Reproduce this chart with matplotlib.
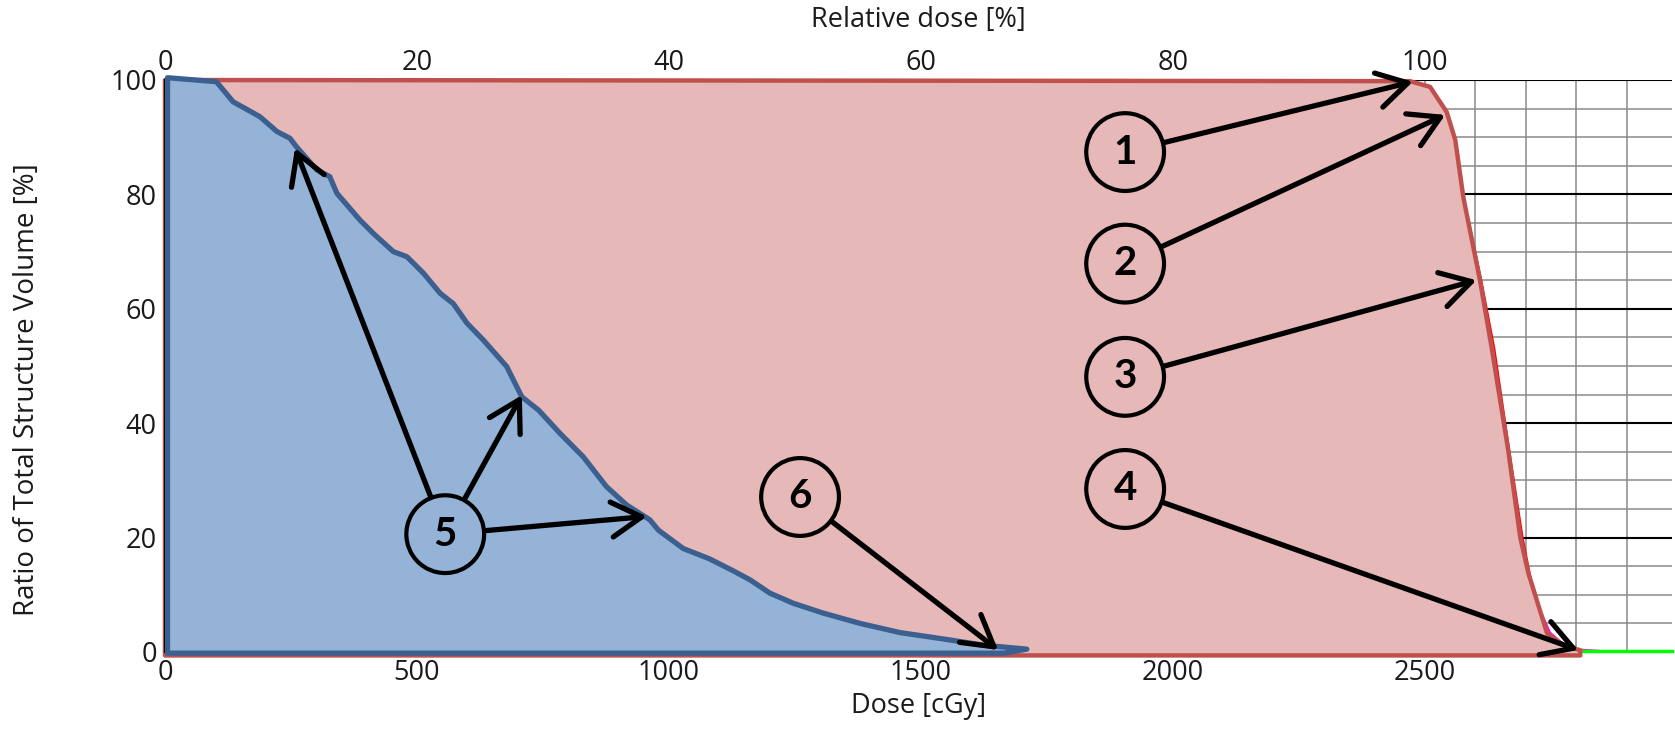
import matplotlib
matplotlib.use('Agg')
import matplotlib.pyplot as plt

# ---------------- data ----------------
# PTV DVH (red)
ptv_dose = [0, 2470, 2510, 2543, 2560, 2576, 2609, 2633, 2665, 2689, 2705, 2742, 2774, 2808]
ptv_vol = [100, 99.8, 98.8, 94.4, 89.5, 79.5, 65.0, 52.8, 35.3, 20.0, 13.8, 3.3, 1.2, 0.3]

# Organ at risk DVH (blue)
oar_dose = [5, 5, 102, 135, 188, 222, 248, 261, 301, 327, 341, 387, 413, 453, 480, 513, 546,
            572, 599, 632, 678, 708, 741, 784, 830, 876, 916, 962, 979, 1028, 1080, 1125,
            1161, 1200, 1247, 1306, 1379, 1458, 1558, 1623, 1710, 1665, 5]
oar_vol = [0, 100.4, 99.7, 96.2, 93.6, 91.0, 89.8, 88.3, 84.3, 83.1, 80.2, 75.5, 73.2, 70.0,
           69.1, 66.2, 62.7, 60.9, 57.5, 54.5, 49.9, 44.6, 42.3, 38.2, 34.1, 28.9, 25.7,
           23.1, 21.3, 18.1, 16.3, 14.3, 12.6, 10.3, 8.5, 6.8, 5.0, 3.4, 2.1, 1.2, 0.5, -0.2, -0.2]

# thin underlying curves of other structures
red_thin_dose = [2588, 2612, 2638, 2668, 2694, 2712]
red_thin_vol = [75, 65, 53, 35, 20, 12]
mag_dose = [2712, 2748, 2778, 2810, 2845]
mag_vol = [10.5, 3.4, 1.1, 0.4, 0.2]
green_left_dose = [0, 0]
green_left_vol = [41, 97]
green_right_dose = [2808, 2990]
green_right_vol = [0.25, 0.25]

x_ticks = [0, 500, 1000, 1500, 2000, 2500]
y_ticks = [0, 20, 40, 60, 80, 100]
top_ticks = [0, 20, 40, 60, 80, 100]

# numbered callouts
circ_labels = ['1', '2', '3', '4', '5', '6']
circ_x = [1905, 1905, 1905, 1905, 556, 1260]
circ_y = [87.4, 67.9, 48.1, 28.5, 20.6, 27.1]
arrow_from = [0, 1, 2, 3, 4, 4, 4, 5]
arrow_tx = [2476, 2540, 2602, 2804, 258, 708, 956, 1653]
arrow_ty = [99.7, 93.9, 65.0, 0.35, 88.1, 44.9, 23.7, 0.35]

# ---------------- plot ----------------
plt.rcParams['font.family'] = ['Open Sans', 'DejaVu Sans']

W, H = 1675, 733
fig = plt.figure(figsize=(W / 100, H / 100), dpi=100)
ax = fig.add_axes([165 / W, 1 - 652 / H, 1507 / W, 572 / H])
ax.set_xlim(0, 2990)
ax.set_ylim(0, 100)

ax.set_xticks(x_ticks)
ax.set_xticks(range(0, 3000, 100), minor=True)
ax.set_yticks(y_ticks)
ax.set_yticks(range(0, 101, 5), minor=True)
ax.set_axisbelow(True)
ax.grid(which='minor', color='#8a8a8a', lw=1.1)
ax.grid(which='major', axis='x', color='#8a8a8a', lw=1.1)
ax.grid(which='major', axis='y', color='black', lw=1.5)

ax.tick_params(which='both', length=0)
ax.tick_params(axis='x', labelsize=19.5, pad=5, colors='#1a1a1a')
ax.tick_params(axis='y', labelsize=19.5, pad=6, colors='#1a1a1a')
for s in ['top', 'right', 'bottom']:
    ax.spines[s].set_visible(False)
ax.spines['left'].set_color('black')
ax.spines['left'].set_linewidth(1.5)

red_edge, red_fill = '#C0504D', '#E6B8B7'
blue_edge, blue_fill = '#3B6090', '#95B3D7'

ax.fill(ptv_dose + [ptv_dose[-1], 0], ptv_vol + [-0.6, -0.6], facecolor=red_fill,
        edgecolor=red_edge, lw=3.2, joinstyle='round', clip_on=False, zorder=2)
ax.plot(red_thin_dose, red_thin_vol, color='#FF0000', lw=1.2, zorder=1.9)
ax.plot(mag_dose, mag_vol, color='#FF00FF', lw=1.5, zorder=1.9, clip_on=False)
ax.plot(green_right_dose, green_right_vol, color='#00FF00', lw=2.5, zorder=1.9, clip_on=False)
ax.fill(oar_dose, oar_vol, facecolor=blue_fill, edgecolor=blue_edge, lw=3.8,
        joinstyle='round', clip_on=False, zorder=3)
ax.plot(green_left_dose, green_left_vol, color='#00FF00', lw=1.5, zorder=2.5, clip_on=False)

ax.set_xlabel('Dose [cGy]', fontsize=19.5, color='#1a1a1a')
ax.set_ylabel('Ratio of Total Structure Volume [%]', fontsize=20, color='#1a1a1a')
ax.xaxis.set_label_coords(0.5, (652 - 706) / 572)
ax.xaxis.label.set_va('center')
ax.yaxis.set_label_coords((27 - 165) / 1507, 0.458)
ax.yaxis.label.set_va('center')

secax = ax.secondary_xaxis('top', functions=(lambda d: d / 25.0, lambda p: p * 25.0))
secax.set_xticks(top_ticks)
secax.tick_params(length=0, labelsize=19.5, pad=2, colors='#1a1a1a')
for s in secax.spines.values():
    s.set_visible(False)
secax.set_xlabel('Relative dose [%]', fontsize=19.5, color='#1a1a1a')
secax.xaxis.set_label_coords(0.5, (652 - 20) / 572, transform=ax.transAxes)
secax.xaxis.label.set_va('center')

# callout circles
ax.scatter(circ_x, circ_y, s=3136, facecolors='none', edgecolors='black',
           linewidths=3.0, zorder=5, clip_on=False)
for lab, cx, cy in zip(circ_labels, circ_x, circ_y):
    ax.text(cx, cy, lab, ha='center', va='center', fontsize=29, fontweight='bold',
            family=['Lato', 'DejaVu Sans'], color='black', zorder=6)

for i, tx, ty in zip(arrow_from, arrow_tx, arrow_ty):
    ax.annotate('', xy=(tx, ty), xytext=(circ_x[i], circ_y[i]),
                arrowprops=dict(arrowstyle='->, head_length=0.6, head_width=0.35',
                                mutation_scale=36, lw=3.8, color='black',
                                shrinkA=29.5, shrinkB=0, capstyle='round'),
                zorder=6, annotation_clip=False)

fig.savefig('out.png', dpi=100)
